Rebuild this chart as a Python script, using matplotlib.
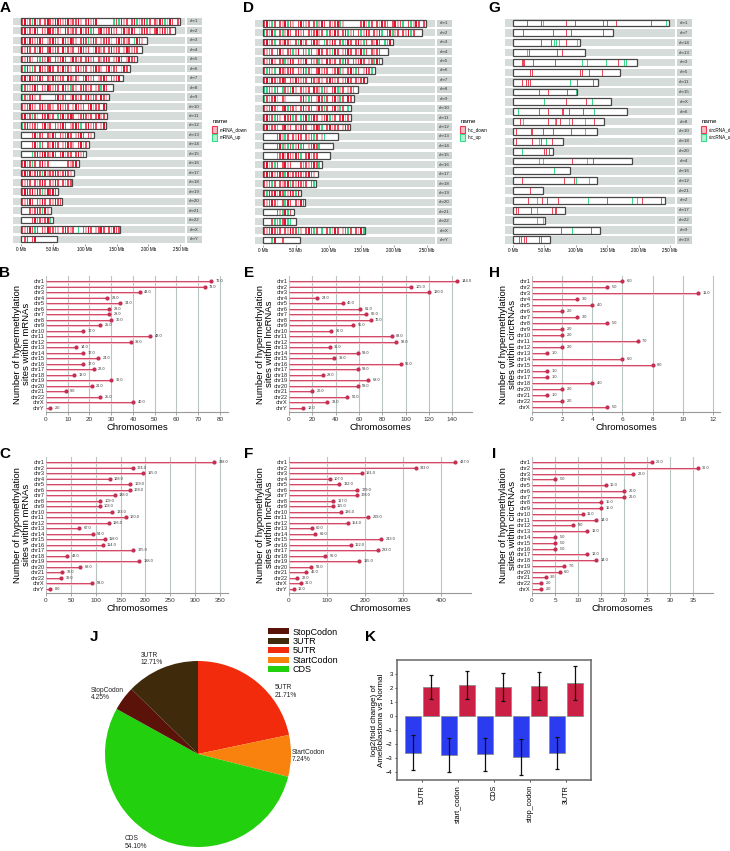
import numpy as np
import matplotlib
matplotlib.use("Agg")
import matplotlib.pyplot as plt
import matplotlib.transforms as mtransforms
from matplotlib.patches import Patch, Rectangle

plt.rcParams['font.family'] = ['Liberation Sans', 'DejaVu Sans']

W, H = 730, 851

# ---------------- data ----------------
chroms = ['chr1', 'chr2', 'chr3', 'chr4', 'chr5', 'chr6', 'chr7', 'chr8', 'chr9', 'chr10',
          'chr11', 'chr12', 'chr13', 'chr14', 'chr15', 'chr16', 'chr17', 'chr18', 'chr19',
          'chr20', 'chr21', 'chr22', 'chrX', 'chrY']
chrom_len = [248.96, 242.19, 198.30, 190.21, 181.54, 170.81, 159.35, 145.14, 138.39, 133.80,
             135.09, 133.28, 114.36, 107.04, 101.99, 90.34, 83.26, 80.37, 58.62, 64.44,
             46.71, 50.82, 156.04, 57.23]

# stripe pattern per chromosome, one char per 4 Mb bin
# R = strong down, r = down, p = weak down, g = up, . = nothing
mrna_stripes = [
    "rRprgRpr.rRrpRRrprRprrRp.rRprR......grgRpr.rRgprRgr.rpRrgpRr.r",
    "rRprpRr.rpRRrprp.Rrprr.RprRgr.rRprrRpr.gRprRr.prRrp.rRpRrgr",
    "rRpRrprRr.prRrp.RrpRrp.rRrgpRr.prRrp.rRgrpr.gRrp",
    "rpRr.rpRr.rRprr.Rprpr.rRrpr.pRrpr.rRprr.pRrprr",
    "rpRrp.rgrpRr.rprRr.pRrpr.rRpr.rprRr.prRr.pRrr",
    "rgRpgr.RrprRr.rpRgrp.rRprr.prRrp.rRprr.pRr",
    "rRpRrprRr.rpRrprr.Rrprp.rRrpr.prRr.rprR",
    "grgprRr.rpRrprr.Rrpgrp.rRrpr.prgRr.",
    "grprRp.r.....rRprr.pRrpr.rRprr.Rrp",
    "rprRrp.rRprrp.rRprr.pRrpr.rRprr.R",
    "rRprgrp.RrRpr.grRprRr.prRrpr.rRpr",
    "grRprrg.rRpr.rprRr.prRrg.rRprr.pR",
    "....rRprr.rpRr.rprRr.prRr.rp",
    "....rRpgr.rpRrr.prRrp.rRpr",
    "....grRpRRrpRr.rRprr.rRpr",
    "rRprgr.rRpr.......rprR",
    "rRrRprRrgRprrRrprRrp",
    "rprr.rprRr.rpRr.rprr",
    "rRRrRpRrgpRrRr",
    "rprRr.rpRr.rpRrr",
    "...rprRrgRp",
    "....rRgrprRg",
    "rprRrgr.rpRrrgp.rRrpr.g.rpRr.prRr.rpRrr",
    ".rr.rR........",
]
lnc_stripes = [
    "rRpgr.rpRgrp.rRgpr.rgpRr.rprRgp......rRpgr.rpRrg.rRprg.rgpRr.rp",
    "grpRg.rgpRr.rRpr.rgrRpr.grpRr.rRgpr.rgpRr.rpRg.rRgpr.rpRgr.",
    "rRprg.rpRrp.rgRpr.rRrp.grpRr.rgpRr.rRpgr.rpRr.ggRg",
    "rpgr.rRp.rrgpR.rpgr.pRr.rpgRr.prRr.rpRgr.rprr.",
    "rprRp.rrgpRr.rpgR.rprgp.Rrpr.rgRr.rprRr.prgRr",
    "rgrpg.RrprRr.rpRgrp.rRprr.prRgp.rRpgr.pRrg",
    "rRpRrprRr.rpRrprr.Rrprp.rRrpr.prRr.rprR",
    "ggrpgr.grpgRp.rgpr.Rrpgrp.rRgpr.prg",
    "grprRp.rp.....rRpgr.pRrgr.rRpgr.Rr",
    "rprRrp.rRgrrp.rRprr.pRrgr.rRpgr.g",
    "rRgrgrp.RrRgr.grRgrRr.prRgpr.rRpr",
    "rRprrg.rRpr.rprRr.prRrg.rRprr.pRr",
    ".....rRpgr.rpRr.rprgr.pg",
    ".....rRgpgrgpRgr.prRrg",
    ".....grRpRrpRrg.rRprr",
    "rRprgr.rRpr...rgrprRrg",
    "rRrRprRrgRprrRrprRrp",
    "rprgr.rprRgrpRrgr.rg",
    "rgRrRpRrgpRrgR",
    "rprRrp.rgRr.rpRr",
    ".....rpgRgr",
    "...rgggrRgg",
    "rprRrgr.rpRrrgp.rRrgr.g.rgpRr.prgr.rpRg",
    "...gR..r......",
]

circ_labels = ['chr1', 'chr7', 'chr14', 'chr13', 'chr3', 'chr5', 'chr11', 'chr15', 'chrX', 'chr6',
               'chr8', 'chr10', 'chr18', 'chr20', 'chr4', 'chr16', 'chr12', 'chr21', 'chr2',
               'chr17', 'chr22', 'chr9', 'chr19']
circ_len = [248, 159, 107, 114, 198, 170, 135, 102, 156, 181, 145, 134, 80, 64, 190, 90, 133,
            47, 242, 83, 51, 138, 59]
circ_down = [
    [22.8, 25.5, 36.6, 45.6, 85.5, 99.8, 114.6, 143.8, 150.2, 165.1, 220.8],
    [16.5, 25.5, 36.6, 49.4, 64.2, 85.5, 93.4, 136.9, 143.8],
    [45.6, 61.6, 85.5],
    [26.0, 36.6, 70.6, 74.8, 79.1],
    [12.7, 14.9, 16.5, 18.0, 32.4, 67.9, 98.7, 129.0, 160.8, 168.3],
    [28.1, 31.3, 52.5, 74.8, 107.7, 110.9, 121.5, 142.3],
    [14.9, 21.8, 24.9, 28.1, 103.0, 127.9],
    [41.9, 56.3, 86.5],
    [85.5, 117.3],
    [41.9, 56.3, 66.9, 78.6, 80.1, 89.7, 106.7, 112.0],
    [12.2, 41.4, 56.3, 69.5, 75.9, 94.5, 129.5],
    [5.8, 29.7, 31.3, 48.3, 64.2, 93.4],
    [5.8, 11.1, 31.3, 45.6, 58.9, 63.2],
    [50.4, 53.6, 57.9],
    [95.0, 127.9, 186.3],
    [3.2, 19.1],
    [15.4, 52.5, 81.7, 97.7],
    [28.1],
    [24.4, 47.2, 54.7, 72.2, 150.7, 178.3, 202.2, 206.5, 224.5, 236.7],
    [5.8, 9.0, 29.7, 63.2, 65.3, 67.4, 69.5],
    [17.5],
    [11.1, 43.0, 77.5, 125.3],
    [10.1, 13.8, 18.0, 21.8, 41.9, 45.6],
]
circ_up = [
    [48.3, 76.4, 178.3, 244.7],
    [0.8, 116.2],
    [65.8, 69.5, 73.8, 90.8, 102.4],
    [22.8],
    [110.9, 118.4, 149.2, 177.3, 181.0],
    [20.7, 81.2],
    [91.8],
    [98.7, 101.0],
    [4.8, 49.9, 126.9],
    [8.5, 129.5],
    [16.5, 67.9, 89.7, 115.7],
    [81.2, 115.7],
    [41.9, 53.6],
    [15.4],
    [41.9, 48.3, 118.9],
    [65.8],
    [101.4, 121.5],
    [],
    [39.3, 90.8, 120.0, 190.0, 198.5],
    [38.7],
    [39.3, 48.3],
    [95.0, 106.7],
    [],
]

hyper_mrna = [76, 73, 43, 28, 34, 29, 29, 30, 25, 17, 48, 39, 14, 17, 24, 17, 22, 13, 30, 21, 9, 25, 40, 2]
hypo_mrna = [338, 174, 195, 128, 169, 168, 138, 109, 108, 133, 160, 126, 67, 94, 118, 114, 175, 43,
             188, 68, 32, 30, 93, 8]
hyper_lnc = [144, 105, 120, 24, 46, 61, 66, 70, 55, 36, 88, 92, 35, 59, 39, 96, 59, 29, 68, 59, 20,
             50, 33, 12]
hypo_lnc = [437, 333, 191, 107, 132, 179, 178, 117, 115, 136, 209, 154, 60, 69, 243, 162, 233, 96,
            185, 58, 46, 22, 31, 12]
hyper_circ_chroms = ['chr1', 'chr2', 'chr3', 'chr4', 'chr5', 'chr6', 'chr7', 'chr8', 'chr9', 'chr10',
                     'chr11', 'chr12', 'chr13', 'chr14', 'chr15', 'chr16', 'chr17', 'chr18', 'chr20',
                     'chr21', 'chr22', 'chrX']
hyper_circ = [6, 5, 11, 3, 4, 2, 3, 5, 2, 2, 7, 2, 1, 6, 8, 1, 1, 4, 2, 1, 2, 5]
hypo_circ_chroms = chroms[:23]
hypo_circ = [26, 36, 22, 5, 16, 20, 20, 15, 15, 11, 14, 9, 12, 5, 5, 5, 12, 14, 7, 6, 3, 2, 2]

# pie, clockwise from 12 o'clock
region_names = ['5UTR', 'StartCodon', 'CDS', 'StopCodon', '3UTR']
region_pct = [21.71, 7.24, 54.10, 4.25, 12.71]
region_colors = ['#f32b0d', '#f9810e', '#23d00d', '#5a1209', '#3f2b0b']
legend_order = ['StopCodon', '3UTR', '5UTR', 'StartCodon', 'CDS']

feature_names = ['5UTR', 'start_codon', 'CDS', 'stop_codon', '3UTR']
fc_down = [-2.62, -2.79, -2.74, -2.95, -2.67]
fc_down_err = [1.25, 1.24, 1.2, 1.28, 1.15]
fc_up = [2.04, 2.21, 2.07, 2.16, 2.36]
fc_up_err = [0.86, 0.99, 0.97, 1.0, 1.23]

fig = plt.figure(figsize=(W / 100, H / 100), dpi=100)


def px_axes(l, t, r, b):
    return fig.add_axes([l / W, 1 - b / H, (r - l) / W, (b - t) / H])


stripe_colors = {'R': '#e3122d', 'r': '#f24a5c', 'p': '#f7adb6', 'g': '#38d98a'}


def ideogram(left, right, start, scale, row0, step, labels, lengths, legend_labels, legend_x):
    n = len(labels)
    ax = px_axes(left, row0 - step / 2, right, row0 + (n - 0.5) * step)
    ax.set_xlim((left - start) / scale, (right - start) / scale)
    ax.set_ylim(n - 0.5, -0.5)
    blend = mtransforms.blended_transform_factory(ax.transAxes, ax.transData)
    strip0 = (right - 15 - left) / (right - left)
    gap = 2 / (right - left)
    for i, (lab, ln) in enumerate(zip(labels, lengths)):
        ax.add_patch(Rectangle((0, i - 0.38), strip0 - gap, 0.76, transform=blend,
                               fc='#d5dcd9', ec='none', zorder=0))
        ax.add_patch(Rectangle((strip0, i - 0.38), 1 - strip0, 0.76, transform=blend,
                               fc='#cdd4d1', ec='none', zorder=0))
        ax.text((strip0 + 1) / 2, i, lab, transform=blend, ha='center', va='center',
                fontsize=3.2, color='#333333')
        ax.barh(i, ln, height=0.7, color='white', zorder=1)
        ax.barh(i, ln, height=0.7, fill=False, edgecolor='#474747', lw=0.9, zorder=3)
    ax.set_xticks([0, 50, 100, 150, 200, 250])
    ax.set_xticklabels([f'{t} Mb' for t in [0, 50, 100, 150, 200, 250]])
    ax.tick_params(axis='x', labelsize=3.3, length=1.5, width=0.4, color='#555555', pad=1)
    ax.set_yticks([])
    for s in ax.spines.values():
        s.set_visible(False)
    handles = [Patch(fc='#f2bcc8', ec='#f0384f', lw=0.8), Patch(fc='#b4f2d2', ec='#32dc88', lw=0.8)]
    leg = ax.legend(handles, legend_labels, title='name', loc='upper left',
                    bbox_to_anchor=(legend_x / W, 1 - 117 / H), bbox_transform=fig.transFigure,
                    frameon=False, fontsize=3.3, title_fontsize=4.5, handlelength=1.1,
                    handleheight=1.8, borderpad=0, labelspacing=0.4, handletextpad=0.5)
    leg._legend_box.align = 'left'
    return ax


def draw_pattern(ax, patterns, lengths):
    for i, (s, ln) in enumerate(zip(patterns, lengths)):
        keep = [(j * 4 + 2, stripe_colors[c]) for j, c in enumerate(s)
                if c in stripe_colors and j * 4 + 2 < ln - 1]
        ax.bar([k[0] for k in keep], 0.7, width=2.6, bottom=i - 0.35,
               color=[k[1] for k in keep], zorder=2)


# ---------- A, D, G: ideograms ----------
axA = ideogram(13, 202, 21, 0.637, 21.3, 9.47, chroms, chrom_len, ['mRNA_down', 'mRNA_up'], 210)
draw_pattern(axA, mrna_stripes, chrom_len)

axD = ideogram(255, 452, 263, 0.655, 23.3, 9.43, chroms, chrom_len, ['lnc_down', 'lnc_up'], 458)
draw_pattern(axD, lnc_stripes, chrom_len)

axG = ideogram(505, 692, 513, 0.628, 23, 9.86, circ_labels, circ_len,
               ['circRNA_down', 'circRNA_up'], 699)
for i in range(len(circ_labels)):
    axG.bar(circ_down[i], 0.7, width=1.3, bottom=i - 0.35, color='#f0475b', zorder=2)
    axG.bar(circ_up[i], 0.7, width=1.3, bottom=i - 0.35, color='#3ddc8c', zorder=2)


# ---------- B, C, E, F, H, I: lollipops ----------
def lollipop(left, top, right, bottom, row0, step, labels, values, xmax, ticks, ylabel):
    ax = px_axes(left, top, right, bottom)
    n = len(labels)
    ys = np.arange(n)
    ax.set_ylim((bottom - row0) / step, (top - row0) / step)
    ax.set_xlim(0, xmax)
    for t in ticks:
        ax.axvline(t, color='#b9c5c0', lw=0.8, zorder=0)
    ax.hlines(ys + 0.17, 0, values, color='#f3bcc6', lw=1.5, zorder=1)
    ax.hlines(ys, 0, values, color='#c83657', lw=0.6, zorder=2)
    ax.scatter(values, ys, s=9, color='#c42f52', zorder=3, linewidths=0)
    for y, v in zip(ys, values):
        ax.annotate(f'{v:.1f}', (v, y), xytext=(3.2, 0), textcoords='offset points',
                    fontsize=2.8, va='center', color='#333333')
    ax.set_yticks(ys)
    ax.set_yticklabels(labels, fontsize=4.1, color='#222222')
    ax.tick_params(axis='y', length=0, pad=1)
    ax.set_xticks(ticks)
    ax.tick_params(axis='x', labelsize=4.6, length=2, width=0.6, color='#999999', pad=1.5,
                   labelcolor='#333333')
    for s in ['left', 'top', 'right']:
        ax.spines[s].set_visible(False)
    ax.spines['bottom'].set_color('#999999')
    ax.spines['bottom'].set_linewidth(0.8)
    ax.set_xlabel('Chromosomes', fontsize=6.8, labelpad=1)
    ax.set_ylabel(ylabel, fontsize=6.8, linespacing=1.0)
    ax.yaxis.set_label_coords(-15 / (right - left), 0.5)
    return ax


lollipop(46, 276, 228, 412, 281, 5.52, chroms, hyper_mrna, 83.7, list(range(0, 81, 10)),
         'Number of hypermethylation\nsites within mRNAs')
lollipop(46, 457, 228, 593, 462, 5.52, chroms, hypo_mrna, 366, list(range(0, 351, 50)),
         'Number of hypomethylation\nsites within mRNAs')
lollipop(289, 276, 472, 412, 281, 5.52, chroms, hyper_lnc, 157, list(range(0, 141, 20)),
         'Number of hypermethylation\nsites within lncRNAs')
lollipop(289, 457, 471, 593, 462, 5.52, chroms, hypo_lnc, 479, list(range(0, 401, 100)),
         'Number of hypomethylation\nsites within lncRNAs')
lollipop(532, 276, 720, 412, 281, 6.0, hyper_circ_chroms, hyper_circ, 12.47, list(range(0, 13, 2)),
         'Number of hypermethylation\nsites within circRNAs')
lollipop(532, 457, 713, 593, 462, 5.77, hypo_circ_chroms, hypo_circ, 39.3, list(range(0, 36, 5)),
         'Number of hypomethylation\nsites within circRNAs')

# ---------- J: pie ----------
axJ = px_axes(105, 661, 291, 847)
axJ.pie(region_pct, colors=region_colors, startangle=90, counterclock=False, radius=1)
axJ.set_xlim(-1, 1)
axJ.set_ylim(-1, 1)
label_pos = {'3UTR': (-0.62, 1.02), 'StopCodon': (-1.15, 0.645), '5UTR': (0.83, 0.67),
             'StartCodon': (1.01, -0.02), 'CDS': (-0.785, -0.95)}
for name, pct in zip(region_names, region_pct):
    x, y = label_pos[name]
    axJ.text(x, y, f'{name}\n{pct:.2f}%', fontsize=4.8, ha='left', va='center',
             linespacing=1.1, color='#222222')
leg_handles = [Patch(fc=region_colors[region_names.index(nm)]) for nm in legend_order]
fig.legend(leg_handles, legend_order, loc='upper left', bbox_to_anchor=(263 / W, 1 - 623 / H),
           frameon=False, fontsize=6.5, handlelength=2.4, handleheight=0.65, labelspacing=0.05,
           handletextpad=0.4, borderpad=0)

# ---------- K: bars ----------
axK = px_axes(397, 660, 591, 780)
x = np.arange(len(feature_names))
err_kw = dict(ecolor='#111111', elinewidth=0.9, capsize=1.5, capthick=0.9)
axK.bar(x - 0.25, fc_down, 0.42, yerr=fc_down_err, color='#2b3cf0', edgecolor='#8a8a8a',
        lw=0.6, error_kw=err_kw)
axK.bar(x + 0.25, fc_up, 0.42, yerr=fc_up_err, color='#cc1f45', edgecolor='#8a8a8a',
        lw=0.6, error_kw=err_kw)
axK.set_xlim(-0.694, 4.694)
axK.set_ylim(-4.57, 4.0)
axK.set_yticks(range(-4, 4))
axK.set_xticks(x)
axK.set_xticklabels(feature_names, rotation=90, fontsize=5.2)
axK.tick_params(axis='y', labelsize=4.2, length=1.5, width=0.5, pad=1.5)
axK.tick_params(axis='x', length=1.5, width=0.5, pad=2)
for s in axK.spines.values():
    s.set_color('#666666')
    s.set_linewidth(1.1)
axK.set_ylabel('log2(fold change) of\nAmeloblastoma vs Normal', fontsize=5.8, linespacing=1.0)
axK.yaxis.set_label_coords(-12 / 194, 0.5)

# ---------- panel letters ----------
letters = {'A': (5, 8), 'D': (249, 8), 'G': (494, 8), 'B': (5, 273), 'E': (249, 273),
           'H': (494, 273), 'C': (5, 454), 'F': (249, 454), 'I': (494, 454), 'J': (94, 637),
           'K': (370, 637)}
for k, (lx, ly) in letters.items():
    fig.text(lx / W, 1 - ly / H, k, fontsize=11, fontweight='bold', ha='center', va='center')

fig.savefig('out.png', dpi=100)
